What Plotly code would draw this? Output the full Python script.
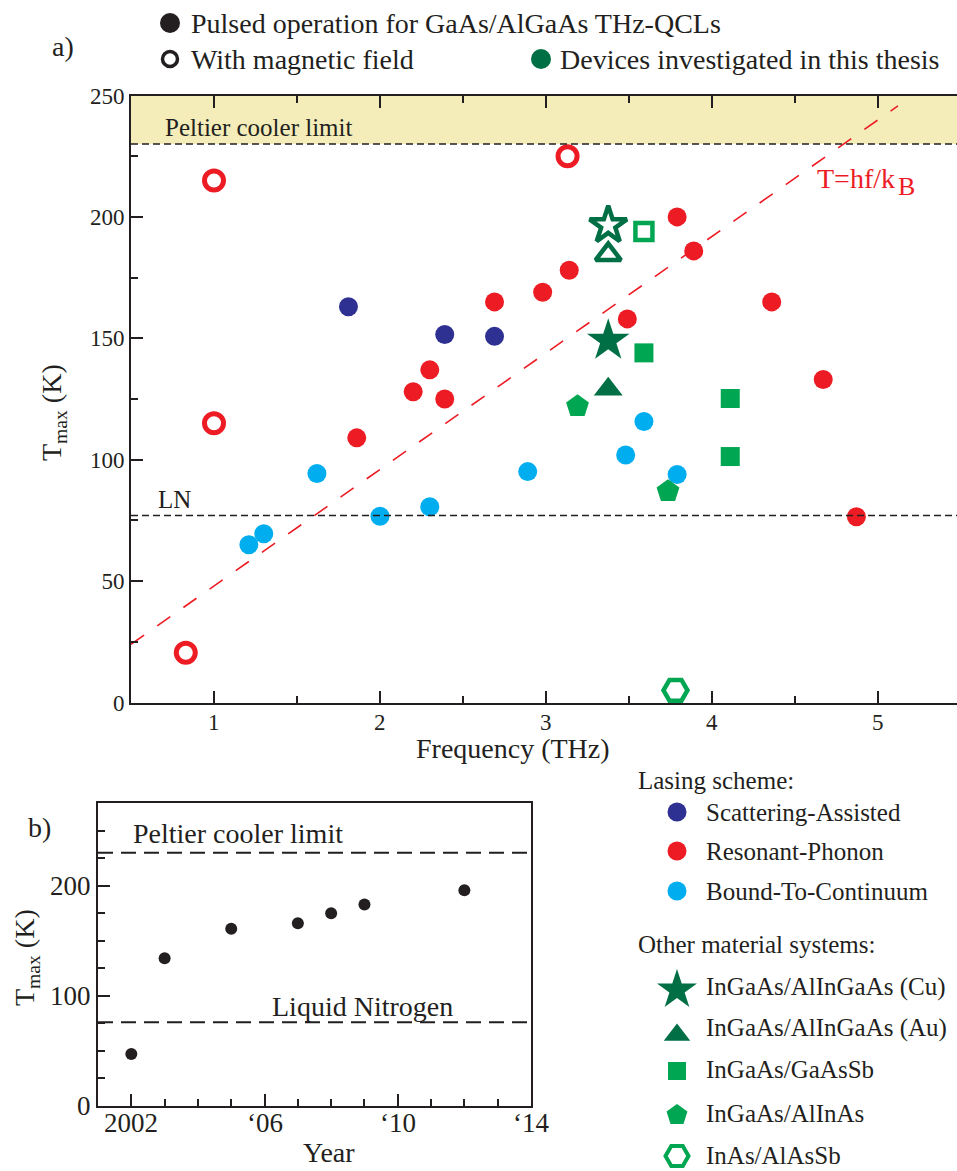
import plotly.graph_objects as go

FONT = "Liberation Serif, Times New Roman, serif"
INK = "#231f20"
BLUE = "#2e3192"
RED = "#ed1c24"
CYAN = "#00aeef"
DKGREEN = "#006f45"
GREEN = "#00a651"
BAND = "#f4edba"

# ---------------- panel a: T_max versus lasing frequency ----------------
sa_freq = [1.81, 2.39, 2.69]                      # scattering-assisted
sa_tmax = [163, 151.6, 150.8]

rp_freq = [1.86, 2.20, 2.30, 2.39, 2.69, 2.98, 3.14, 3.49, 3.79, 3.89, 4.36, 4.67, 4.87]
rp_tmax = [109, 128, 137, 125, 165, 169, 178, 158, 200, 186, 165, 133, 76.5]

btc_freq = [1.21, 1.30, 1.62, 2.00, 2.30, 2.89, 3.48, 3.59, 3.79]
btc_tmax = [65, 69.5, 94.3, 76.7, 80.6, 95.1, 101.9, 115.7, 93.9]

bfield_freq = [0.83, 1.00, 1.00, 3.13]            # GaAs/AlGaAs with magnetic field
bfield_tmax = [20.5, 215, 115, 225]

cu_freq, cu_tmax = [3.375], [149]                 # InGaAs/AlInGaAs, Cu waveguide
cu_b_freq, cu_b_tmax = [3.375], [196.5]
au_freq, au_tmax = [3.375], [129]                 # InGaAs/AlInGaAs, Au waveguide
au_b_freq, au_b_tmax = [3.375], [184.5]

gaassb_freq = [3.59, 4.11, 4.11]                  # InGaAs/GaAsSb
gaassb_tmax = [144, 125.2, 101.3]
gaassb_b_freq, gaassb_b_tmax = [3.59], [194]

alinas_freq = [3.19, 3.735]                       # InGaAs/AlInAs
alinas_tmax = [122, 87]

alassb_freq, alassb_tmax = [3.78], [5]            # InAs/AlAsSb

freq_ticks = [1, 2, 3, 4, 5]

PELTIER_LIMIT = 230
LN_TEMP = 77
H_OVER_KB = 47.99                                 # K per THz
photon_freq = [0.5, 5.12]

# ---------------- panel b: record T_max by year ----------------
years = [2002, 2003, 2005, 2007, 2008, 2009, 2012]
year_tmax = [47, 134, 161, 166, 175, 183, 196]

year_ticks = [2002, 2006, 2010, 2014]
year_labels = ["2002", "\u201806", "\u201810", "\u201814"]

W, H = 957, 1171

fig = go.Figure()


def pts(x, y, symbol, size, color, filled=True, lw=4.5, xa="x", ya="y"):
    if filled:
        marker = dict(symbol=symbol, size=size, color=color, line=dict(width=0))
    else:
        marker = dict(symbol=symbol + "-open", size=size, color=color,
                      line=dict(width=lw, color=color))
    fig.add_trace(go.Scatter(x=x, y=y, mode="markers", marker=marker,
                             xaxis=xa, yaxis=ya, cliponaxis=False,
                             showlegend=False, hoverinfo="skip"))


# T = hf/kB reference line
fig.add_trace(go.Scatter(
    x=photon_freq, y=[H_OVER_KB * f for f in photon_freq], mode="lines",
    line=dict(color=RED, width=1.6, dash="16px,16px"),
    xaxis="x", yaxis="y", showlegend=False, hoverinfo="skip"))

pts(sa_freq, sa_tmax, "circle", 19, BLUE)
pts(rp_freq, rp_tmax, "circle", 19, RED)
pts(btc_freq, btc_tmax, "circle", 19, CYAN)
pts(bfield_freq, bfield_tmax, "circle", 19, RED, filled=False, lw=5)
pts(cu_freq, cu_tmax, "star", 32, DKGREEN)
pts(cu_b_freq, cu_b_tmax, "star", 28, DKGREEN, filled=False)
pts(au_freq, au_tmax, "triangle-up", 25, DKGREEN)
pts(au_b_freq, au_b_tmax, "triangle-up", 22, DKGREEN, filled=False)
pts(gaassb_freq, gaassb_tmax, "square", 19, GREEN)
pts(gaassb_b_freq, gaassb_b_tmax, "square", 17, GREEN, filled=False)
pts(alinas_freq, alinas_tmax, "pentagon", 24, GREEN)
pts(alassb_freq, alassb_tmax, "hexagon2", 24, GREEN, filled=False)

# panel b points
pts(years, year_tmax, "circle", 12, INK, xa="x2", ya="y3")

# ---------------- legend symbols (pixel overlay axes) ----------------
pts([170], [23], "circle", 20, INK, xa="x3", ya="y4")
pts([170], [59], "circle", 15, INK, filled=False, lw=3.5, xa="x3", ya="y4")
pts([541], [59], "circle", 20, DKGREEN, xa="x3", ya="y4")

LX = 677
pts([LX], [812], "circle", 19, BLUE, xa="x3", ya="y4")
pts([LX], [851], "circle", 19, RED, xa="x3", ya="y4")
pts([LX], [891], "circle", 19, CYAN, xa="x3", ya="y4")
pts([LX], [990], "star", 30, DKGREEN, xa="x3", ya="y4")
pts([LX], [1035], "triangle-up", 23, DKGREEN, xa="x3", ya="y4")
pts([LX], [1071], "square", 18, GREEN, xa="x3", ya="y4")
pts([LX], [1115], "pentagon", 22, GREEN, xa="x3", ya="y4")
pts([LX], [1156], "hexagon2", 23, GREEN, filled=False, lw=4, xa="x3", ya="y4")

# ---------------- shapes ----------------
shapes = [
    dict(type="rect", xref="x domain", yref="y", x0=0, x1=1, y0=PELTIER_LIMIT, y1=250,
         fillcolor=BAND, line=dict(width=0), layer="below"),
    dict(type="line", xref="x domain", yref="y", x0=0, x1=1, y0=PELTIER_LIMIT, y1=PELTIER_LIMIT,
         line=dict(color=INK, width=1.5, dash="7px,4px")),
    dict(type="line", xref="x domain", yref="y", x0=0, x1=1, y0=LN_TEMP, y1=LN_TEMP,
         line=dict(color=INK, width=1.5, dash="7px,4px")),
    dict(type="line", xref="x2 domain", yref="y3", x0=0, x1=1, y0=PELTIER_LIMIT, y1=PELTIER_LIMIT,
         line=dict(color=INK, width=2, dash="15px,8px")),
    dict(type="line", xref="x2 domain", yref="y3", x0=0, x1=1, y0=LN_TEMP - 1, y1=LN_TEMP - 1,
         line=dict(color=INK, width=2, dash="15px,8px")),
]


# ---------------- text ----------------
def label(text, x, y, size, color=INK, xanchor="left", angle=0, xref="x3"):
    return dict(text=text, x=x, y=y, xref=xref, yref="y4", showarrow=False,
                xanchor=xanchor, yanchor="middle", textangle=angle,
                font=dict(family=FONT, size=size, color=color))


annotations = [
    label("a)", 50, 46, 28),
    label("Pulsed operation for GaAs/AlGaAs THz-QCLs", 189, 23, 28),
    label("With magnetic field", 189, 59, 28),
    label("Devices investigated in this thesis", 558, 59, 28),
    label("Peltier cooler limit", 163, 127, 25),
    label("LN", 156, 499, 25),
    label("T=hf/k", 815, 178, 28, color=RED),
    label("B", 896, 186, 26, color=RED),
    label("Frequency (THz)", 513, 748, 28, xanchor="center"),
    label("T<sub>max</sub> (K)", 53, 413, 28, xanchor="center", angle=-90),
    label("b)", 26, 827, 28),
    label("Peltier cooler limit", 131, 833, 28),
    label("Liquid Nitrogen", 270, 1006, 28),
    label("Year", 329, 1152, 28, xanchor="center"),
    label("T<sub>max</sub> (K)", 26, 958, 28, xanchor="center", angle=-90),
    label("Lasing scheme:", 636, 780, 25),
    label("Scattering-Assisted", 704, 812, 25),
    label("Resonant-Phonon", 704, 851, 25),
    label("Bound-To-Continuum", 704, 891, 25),
    label("Other material systems:", 636, 944, 25),
    label("InGaAs/AlInGaAs (Cu)", 704, 987, 25),
    label("InGaAs/AlInGaAs (Au)", 704, 1028, 25),
    label("InGaAs/GaAsSb", 704, 1069, 25),
    label("InGaAs/AlInAs", 704, 1113, 25),
    label("InAs/AlAsSb", 704, 1155, 25),
]
# x tick labels, positioned on the data axes
annotations += [label(str(v), v, 722, 23, xanchor="center", xref="x") for v in freq_ticks]
annotations += [label(t, v, 1123, 27, xanchor="center", xref="x2")
                for v, t in zip(year_ticks, year_labels)]

tickfont_a = dict(family=FONT, size=23, color=INK)
tickfont_b = dict(family=FONT, size=27, color=INK)

fig.update_layout(
    width=W, height=H,
    margin=dict(l=0, r=0, t=0, b=0, pad=0, autoexpand=False),
    paper_bgcolor="white", plot_bgcolor="rgba(0,0,0,0)",
    showlegend=False,
    shapes=shapes, annotations=annotations,
    xaxis=dict(domain=[131 / W, 1], range=[0.5, 5.476], anchor="y", automargin=False,
               tickvals=freq_ticks, showticklabels=False, ticks="inside", ticklen=12,
               tickwidth=1.5, tickcolor=INK, showline=True, linecolor=INK, linewidth=2,
               mirror="ticks", showgrid=False, zeroline=False,
               minor=dict(dtick=0.5, tick0=0.5, ticks="inside", ticklen=7,
                          tickwidth=1.5, tickcolor=INK, showgrid=False)),
    yaxis=dict(domain=[1 - 702.5 / H, 1 - 95.5 / H], range=[0, 250], anchor="x",
               automargin=False,
               tickvals=[0, 50, 100, 150, 200, 250], ticks="inside", ticklen=12,
               tickwidth=1.5, tickcolor=INK, showline=True, linecolor=INK, linewidth=2,
               showgrid=False, zeroline=False, tickfont=tickfont_a,
               minor=dict(dtick=25, tick0=0, ticks="inside", ticklen=7,
                          tickwidth=1.5, tickcolor=INK, showgrid=False)),
    yaxis2=dict(overlaying="y", side="right", anchor="x", range=[0, 250], automargin=False,
                tickvals=[0, 50, 100, 150, 200, 250], ticks="inside", ticklen=12,
                tickwidth=1.5, tickcolor=INK, showticklabels=False, showline=False,
                showgrid=False, zeroline=False,
                minor=dict(dtick=25, tick0=0, ticks="inside", ticklen=7,
                           tickwidth=1.5, tickcolor=INK, showgrid=False)),
    xaxis2=dict(domain=[98 / W, 531 / W], range=[2001, 2014], anchor="y3", automargin=False,
                tickvals=year_ticks, showticklabels=False, ticks="inside", ticklen=12,
                tickwidth=1.5, tickcolor=INK, showline=True, linecolor=INK, linewidth=2,
                mirror=True, showgrid=False, zeroline=False,
                minor=dict(dtick=1, tick0=2001, ticks="inside", ticklen=7,
                           tickwidth=1.5, tickcolor=INK, showgrid=False)),
    yaxis3=dict(domain=[1 - 1105.7 / H, 1 - 803.3 / H], range=[0, 275], anchor="x2",
                automargin=False,
                tickvals=[0, 100, 200], ticks="inside", ticklen=12, tickwidth=1.5,
                tickcolor=INK, showline=True, linecolor=INK, linewidth=2, mirror=True,
                showgrid=False, zeroline=False, tickfont=tickfont_b,
                minor=dict(dtick=25, tick0=0, ticks="inside", ticklen=7,
                           tickwidth=1.5, tickcolor=INK, showgrid=False)),
    xaxis3=dict(domain=[0, 1], range=[0, W], anchor="y4", visible=False, automargin=False),
    yaxis4=dict(domain=[0, 1], range=[H, 0], anchor="x3", visible=False, automargin=False),
)

fig.write_html("out.html")
